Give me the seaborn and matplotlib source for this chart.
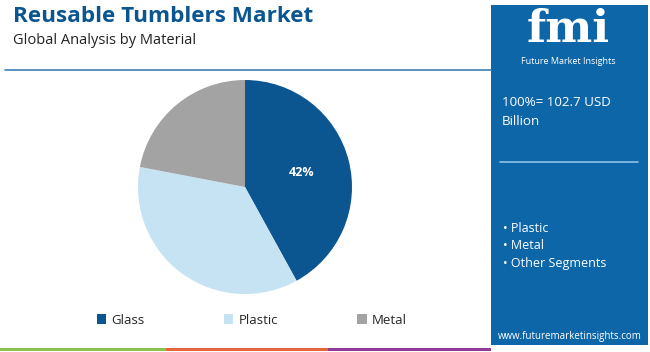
import seaborn as sns
sns.set_style('white')
import matplotlib.pyplot as plt
from matplotlib.patches import Rectangle
from matplotlib.lines import Line2D

plt.rcParams['font.family'] = ['Open Sans', 'DejaVu Sans']

materials = ['Glass', 'Plastic', 'Metal']
shares = [42, 36, 22]
colors = ['#0b5690', '#c6e3f4', '#a3a3a3']
panel_items = ['Plastic', 'Metal', 'Other Segments']
total_text = '100%= 102.7 USD\nBillion'

W, H = 650, 352
fig = plt.figure(figsize=(W / 100, H / 100), dpi=100)

def px(x, y):
    # pixel coords (top-left origin) -> figure fraction
    return x / W, 1 - y / H

# header
fig.text(*px(13, 16), 'Reusable Tumblers Market', fontsize=16.2, fontweight='bold',
         color='#0b5690', va='center', ha='left')
fig.text(*px(13, 41), 'Global Analysis by Material', fontsize=10.5, color='#222222',
         va='center', ha='left')
fig.add_artist(Line2D([5 / W, 491 / W], [1 - 70 / H] * 2, color='#3f7fb5', lw=1.2))

# right panel
fig.add_artist(Rectangle(px(491, 345), 157 / W, 340 / H, color='#0d66a8', lw=0))
fig.text(*px(568, 30), 'fmi', fontsize=32, fontweight='bold', color='white',
         family='DejaVu Serif', ha='center', va='center')
fig.text(*px(568, 61), 'Future Market Insights', fontsize=6.5, color='white',
         ha='center', va='center')
fig.text(*px(502, 112), total_text, fontsize=9.6, color='white', ha='left', va='center',
         linespacing=1.6)
fig.add_artist(Line2D([500 / W, 638 / W], [1 - 162 / H] * 2, color='#8cc2ea', lw=1.2))
for i, item in enumerate(panel_items):
    fig.text(*px(503, 228 + i * 17.5), '\u2022 ' + item, fontsize=9, color='white',
             ha='left', va='center')
fig.text(*px(570, 337), 'www.futuremarketinsights.com', fontsize=7, color='white',
         ha='center', va='center')

# bottom strip
for x0, x1, c in [(0, 166, '#8bc34a'), (166, 328, '#e8663d'), (328, 491, '#8e3c97')]:
    fig.add_artist(Rectangle(px(x0, 351), (x1 - x0) / W, 3 / H, color=c, lw=0))

# pie
r = 107
ax = fig.add_axes([(245 - r) / W, (H - 187 - r) / H, 2 * r / W, 2 * r / H])
wedges, _ = ax.pie(shares, colors=colors, startangle=90, counterclock=False,
                   wedgeprops=dict(linewidth=0))
ax.text(0.53, 0.14, f'{shares[0]}%', color='white', fontsize=9, fontweight='bold',
        ha='center', va='center')
ax.set_xlim(-1, 1)
ax.set_ylim(-1, 1)
ax.set_aspect('equal')
ax.axis('off')

fig.legend(wedges, materials, loc='center', bbox_to_anchor=(252 / W, 1 - 320 / H),
           ncol=3, frameon=False, fontsize=9.5, handlelength=0.7, handleheight=0.7,
           handletextpad=0.4, columnspacing=6.0)

fig.savefig('out.png', dpi=100)
